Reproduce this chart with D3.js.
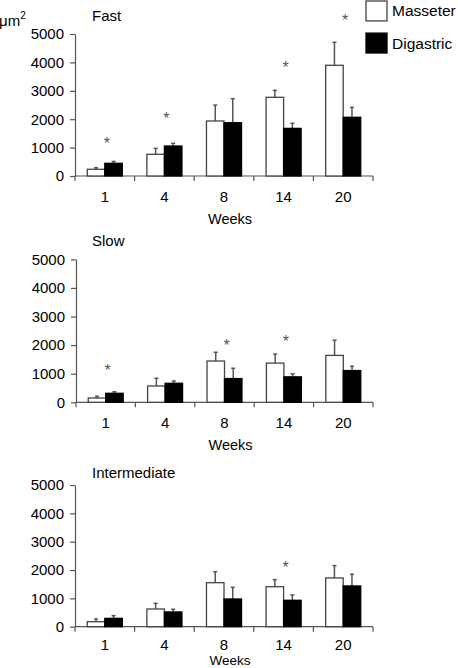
<!DOCTYPE html>
<html><head><meta charset="utf-8">
<script src="https://cdn.jsdelivr.net/npm/d3@7"></script>
<style>
body{margin:0;background:#fff}
svg{display:block;font-family:"Liberation Sans",Arial,Helvetica,sans-serif}
</style></head>
<body>
<svg id="chart" width="458" height="668"></svg>
<script>
const weeks = ["1","4","8","14","20"];
const series = ["Masseter","Digastric"];
const yTicks = [0,1000,2000,3000,4000,5000];

const fastMasseter = [236, 764, 1937, 2771, 3898];
const fastMasseterErr = [55, 210, 560, 245, 810];
const fastDigastric = [447, 1056, 1877, 1677, 2067];
const fastDigastricErr = [65, 95, 845, 180, 350];
const fastSig = [1230, 2110, null, 3910, 5560];

const slowMasseter = [150, 570, 1444, 1370, 1640];
const slowMasseterErr = [60, 270, 305, 315, 530];
const slowDigastric = [315, 665, 830, 890, 1110];
const slowDigastricErr = [55, 80, 360, 105, 150];
const slowSig = [1210, null, 2080, 2210, null];

const intMasseter = [177, 625, 1553, 1412, 1720];
const intMasseterErr = [93, 200, 387, 248, 435];
const intDigastric = [295, 520, 978, 932, 1437];
const intDigastricErr = [95, 95, 412, 188, 413];
const intSig = [null, null, null, 2180, null];

const panels = [
  {title:"Fast", m:fastMasseter, me:fastMasseterErr, d:fastDigastric, de:fastDigastricErr, sig:fastSig, top:34, bottom:176, axisX:75, titleY:21},
  {title:"Slow", m:slowMasseter, me:slowMasseterErr, d:slowDigastric, de:slowDigastricErr, sig:slowSig, top:259.3, bottom:402.3, axisX:76, titleY:246},
  {title:"Intermediate", m:intMasseter, me:intMasseterErr, d:intDigastric, de:intDigastricErr, sig:intSig, top:485, bottom:626.7, axisX:75, titleY:477.5}
];

const svg = d3.select("#chart");
const axisColor = "#555";
const colors = {Masseter:"#fff", Digastric:"#000"};

panels.forEach((p,pi)=>{
  const g = svg.append("g");
  const x0 = d3.scaleBand().domain(weeks).range([p.axisX, 373]).padding(0);
  const x1 = d3.scaleBand().domain(series).range([0, x0.bandwidth()]).paddingInner(0).paddingOuter(0.7);
  const y = d3.scaleLinear().domain([0,5000]).range([p.bottom, p.top]);

  // y axis
  const ya = g.append("g").attr("transform",`translate(${p.axisX},0)`)
    .call(d3.axisLeft(y).tickValues(yTicks).tickSize(5).tickSizeOuter(0).tickPadding(6).tickFormat(d3.format("d")));
  ya.select(".domain").attr("stroke",axisColor).attr("stroke-width",1.2);
  ya.selectAll(".tick line").attr("stroke",axisColor).attr("stroke-width",1.2);
  ya.selectAll(".tick text").attr("fill","#000").style("font-size","15px").style("font-family","Liberation Sans, Arial, sans-serif");

  // x axis line and boundary ticks
  const bounds = weeks.map(w=>x0(w)).concat([x0.range()[1]]);
  g.append("line").attr("x1",x0.range()[0]).attr("x2",x0.range()[1]).attr("y1",y(0)).attr("y2",y(0))
    .attr("stroke",axisColor).attr("stroke-width",1.2);
  g.selectAll(".xt").data(bounds).join("line").attr("class","xt")
    .attr("x1",d=>d).attr("x2",d=>d).attr("y1",y(0)).attr("y2",y(0)+5)
    .attr("stroke",axisColor).attr("stroke-width",1.2);
  g.selectAll(".xl").data(weeks).join("text").attr("class","xl")
    .attr("x",d=>x0(d)+x0.bandwidth()/2).attr("y",y(0)+(pi===2 ? 22.8 : 25.5))
    .attr("text-anchor","middle").style("font-size","15px").text(d=>d);
  g.append("text").attr("x",(x0.range()[0]+x0.range()[1])/2+6).attr("y", pi===2 ? y(0)+38.3 : y(0)+48)
    .attr("text-anchor","middle").style("font-size", pi===2 ? "13.5px" : "14.5px").text("Weeks");

  // title
  g.append("text").attr("x",92).attr("y",p.titleY).style("font-size","15px").text(p.title);

  // bars
  const rows = weeks.map((w,i)=>({w, vals:[
    {s:"Masseter", v:p.m[i], e:p.me[i]},
    {s:"Digastric", v:p.d[i], e:p.de[i]}
  ], sig:p.sig[i]}));

  const grp = g.selectAll(".grp").data(rows).join("g").attr("class","grp")
    .attr("transform",d=>`translate(${x0(d.w)},0)`);
  grp.selectAll(".eb").data(d=>d.vals).join("line").attr("class","eb")
    .attr("x1",d=>x1(d.s)+x1.bandwidth()/2).attr("x2",d=>x1(d.s)+x1.bandwidth()/2)
    .attr("y1",d=>y(d.v)).attr("y2",d=>y(d.v+d.e))
    .attr("stroke",axisColor).attr("stroke-width",1.5);
  grp.selectAll(".ec").data(d=>d.vals).join("line").attr("class","ec")
    .attr("x1",d=>x1(d.s)+x1.bandwidth()/2-2).attr("x2",d=>x1(d.s)+x1.bandwidth()/2+2)
    .attr("y1",d=>y(d.v+d.e)).attr("y2",d=>y(d.v+d.e))
    .attr("stroke",axisColor).attr("stroke-width",1.5);
  grp.selectAll("rect").data(d=>d.vals).join("rect")
    .attr("x",d=>x1(d.s)).attr("width",x1.bandwidth())
    .attr("y",d=>y(d.v)).attr("height",d=>y(0)-y(d.v))
    .attr("fill",d=>colors[d.s]).attr("stroke",d=>d.s==="Masseter"?"#444":"#000").attr("stroke-width",1.3);

  // significance asterisks
  g.selectAll(".sig").data(rows.filter(r=>r.sig!==null)).join("text").attr("class","sig")
    .attr("x",d=>x0(d.w)+x0.bandwidth()/2+2).attr("y",d=>y(d.sig)+8)
    .attr("text-anchor","middle").attr("fill","#555").style("font-size","16px").text("*");
});

// unit label
const u = svg.append("text").attr("x",-1).attr("y",26).style("font-size","15px");
u.append("tspan").text("\u03BCm");
u.append("tspan").attr("dy",-7).style("font-size","10px").text("2");

// legend
const leg = svg.append("g");
const legY = d3.scaleBand().domain(series).range([1,53]).paddingInner(0.38);
leg.selectAll("rect").data(series).join("rect")
  .attr("x",366).attr("y",d=>legY(d)).attr("width",21).attr("height",legY.bandwidth())
  .attr("fill",d=>colors[d]).attr("stroke",d=>d==="Masseter"?"#444":"#000").attr("stroke-width",1.3);
leg.selectAll("text").data(series).join("text")
  .attr("x",392).attr("y",d=>legY(d)+legY.bandwidth()/2+5.5)
  .style("font-size","15.5px").text(d=>d);
</script>
</body></html>
